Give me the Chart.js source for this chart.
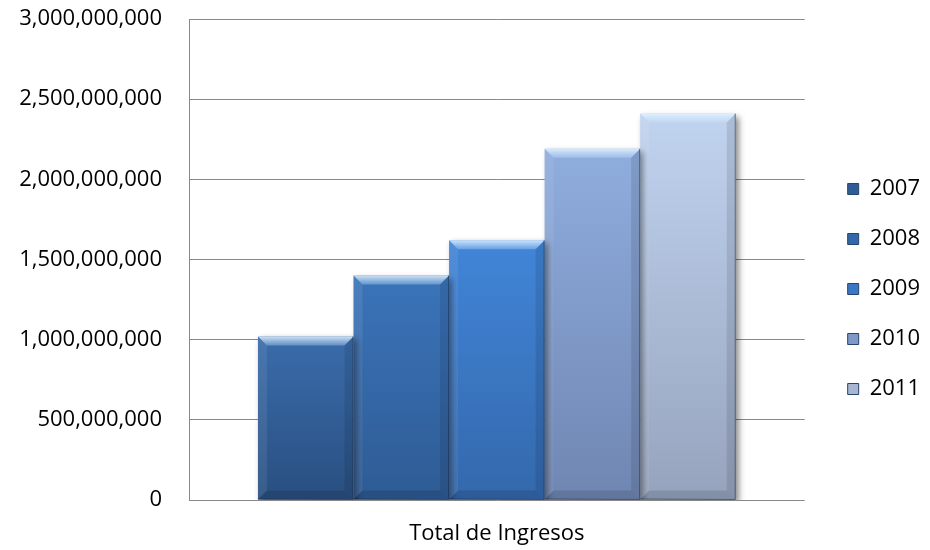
<!DOCTYPE html>
<html>
<head>
<meta charset="utf-8">
<script src="https://cdn.jsdelivr.net/npm/chart.js@4/dist/chart.umd.min.js"></script>
<style>
  html, body { margin: 0; padding: 0; background: #fff; }
  #wrap { width: 930px; height: 550px; }
</style>
</head>
<body>
<div id="wrap"><canvas id="ingresos-chart"></canvas></div>
<script>
var categories = ['Total de Ingresos'];
var years = ['2007', '2008', '2009', '2010', '2011'];
var ingresos = [1020000000, 1400000000, 1620000000, 2190000000, 2410000000];
var yTicks = [0, 500000000, 1000000000, 1500000000, 2000000000, 2500000000, 3000000000];

// face colours, top -> bottom of each bar
var topColors = ['#3a6cab', '#3b74ba', '#4185d8', '#8fadde', '#c0d3ef'];
var bottomColors = ['#294f80', '#2e5b94', '#3468ac', '#7086b2', '#96a3bd'];
var legendColors = ['#2f5d96', '#3367a8', '#3a78c6', '#7f98c6', '#a9b6cf'];

var fontFamily = '"Open Sans", "Noto Sans", sans-serif';
var gridColor = '#888888';

function barFill(i) {
    return function(c) {
        if (c.type !== 'data' || !c.chart.chartArea) return topColors[i];
        var ys = c.chart.scales.y;
        var y0 = ys.getPixelForValue(c.raw);
        var y1 = ys.getPixelForValue(0);
        var g = c.chart.ctx.createLinearGradient(0, y0, 0, y1);
        g.addColorStop(0, topColors[i]);
        g.addColorStop(1, bottomColors[i]);
        return g;
    };
}

/* soft shadow under the bars */
var shadowPlugin = {
    id: 'barShadow',
    beforeDatasetsDraw: function(chart) {
        var ctx = chart.ctx;
        ctx.save();
        ctx.shadowColor = 'rgba(0,0,0,0.45)';
        ctx.shadowBlur = 6;
        ctx.shadowOffsetX = 3;
        ctx.shadowOffsetY = 3;
    },
    afterDatasetsDraw: function(chart) {
        chart.ctx.restore();
    }
};

/* bevelled edges on top of each bar */
var bevelPlugin = {
    id: 'bevel',
    afterDatasetsDraw: function(chart) {
        var ctx = chart.ctx;
        var b = 9;
        chart.data.datasets.forEach(function(ds, i) {
            var meta = chart.getDatasetMeta(i);
            meta.data.forEach(function(bar) {
                var p = bar.getProps(['x', 'y', 'width', 'base'], true);
                var l = p.x - p.width / 2, r = p.x + p.width / 2, t = p.y, bt = p.base;
                function quad(pts, fill) {
                    ctx.beginPath();
                    ctx.moveTo(pts[0][0], pts[0][1]);
                    for (var k = 1; k < pts.length; k++) ctx.lineTo(pts[k][0], pts[k][1]);
                    ctx.closePath();
                    ctx.fillStyle = fill;
                    ctx.fill();
                }
                ctx.save();
                var tg = ctx.createLinearGradient(0, t, 0, t + b);
                tg.addColorStop(0, 'rgba(230,245,255,0.85)');
                tg.addColorStop(1, 'rgba(200,230,255,0.3)');
                quad([[l, t], [r, t], [r - b, t + b], [l + b, t + b]], tg);
                quad([[l, t], [l + b, t + b], [l + b, bt - b], [l, bt]], 'rgba(255,255,255,0.08)');
                quad([[r, t], [r - b, t + b], [r - b, bt - b], [r, bt]], 'rgba(0,0,0,0.1)');
                quad([[l, bt], [l + b, bt - b], [r - b, bt - b], [r, bt]], 'rgba(0,0,0,0.12)');
                ctx.strokeStyle = 'rgba(20,40,70,0.5)';
                ctx.lineWidth = 1;
                ctx.beginPath();
                ctx.moveTo(r - 0.5, t);
                ctx.lineTo(r - 0.5, bt);
                ctx.lineTo(l, bt - 0.5);
                ctx.stroke();
                ctx.restore();
            });
        });
    }
};

var ctx = document.getElementById('ingresos-chart').getContext('2d');

var datasets = years.map(function(y, i) {
    return {
        label: y,
        data: [ingresos[i]],
        backgroundColor: barFill(i),
        borderWidth: 0,
        barPercentage: 1,
        categoryPercentage: 0.776
    };
});

var chart = new Chart(ctx, {
    type: 'bar',
    data: {
        labels: categories,
        datasets: datasets
    },
    options: {
        responsive: true,
        maintainAspectRatio: false,
        animation: false,
        layout: { padding: { top: 19, left: 0, right: 0, bottom: 0 } },
        plugins: {
            tooltip: { enabled: false },
            legend: {
                position: 'right',
                title: { display: true, text: ' ', font: { size: 5, lineHeight: 1 }, padding: 2 },
                labels: {
                    boxWidth: 11,
                    boxHeight: 11,
                    padding: 28,
                    color: '#000',
                    font: { family: fontFamily, size: 22 },
                    generateLabels: function(chart) {
                        return years.map(function(y, i) {
                            return {
                                text: y,
                                fillStyle: legendColors[i],
                                strokeStyle: '#24456f',
                                fontColor: '#000',
                                lineWidth: 1,
                                datasetIndex: i,
                                hidden: false
                            };
                        });
                    }
                }
            }
        },
        scales: {
            x: {
                grid: { display: false },
                border: { display: false },
                ticks: {
                    color: '#000',
                    padding: 13,
                    font: { family: fontFamily, size: 22 }
                },
                afterFit: function(s) { s.height = 50; }
            },
            y: {
                min: 0,
                max: 3000000000,
                afterBuildTicks: function(s) {
                    s.ticks = yTicks.map(function(v) { return { value: v }; });
                },
                grid: { color: gridColor, lineWidth: 1, drawTicks: false },
                border: { display: true, color: gridColor, width: 1 },
                ticks: {
                    color: '#000',
                    padding: 27,
                    font: { family: fontFamily, size: 22 },
                    callback: function(v) { return v.toLocaleString('en-US'); }
                },
                afterFit: function(s) {
                    s.width = 189;
                    s.paddingTop = 0;
                    s.paddingBottom = 0;
                }
            },
            gap: {
                position: 'right',
                display: true,
                grid: { display: false, drawTicks: false },
                border: { display: false },
                ticks: { display: false },
                afterFit: function(s) { s.width = 15; }
            }
        }
    },
    plugins: [shadowPlugin, bevelPlugin]
});
</script>
</body>
</html>
